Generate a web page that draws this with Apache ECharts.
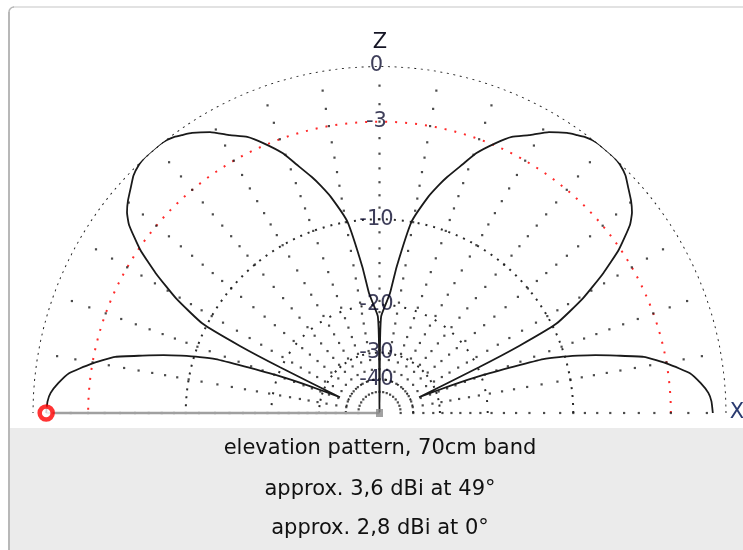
<!DOCTYPE html>
<html>
<head>
<meta charset="utf-8">
<script src="https://cdn.jsdelivr.net/npm/echarts@6/dist/echarts.min.js"></script>
<style>
html,body{margin:0;padding:0;background:#fff;}
#chart{width:743px;height:550px;}
</style>
</head>
<body>
<div id="chart"></div>
<script>
// ---- data ----
// elevation angle (deg, 0 = +X horizon, 90 = zenith, 180 = -X horizon)
const patternAngle = [0, 2, 3.5, 5.3, 7.3, 9.6, 12, 13.6, 15, 16.1, 17.3, 18.2, 19, 20.2, 21.1, 21.7,
  24.7, 25.65, 26.8, 29.4, 32, 34.3, 36.9, 38.5, 40.2, 42.3, 44, 46, 47.5, 49, 50.7, 52.1, 53.4, 54.6, 56.2, 58.9, 61.7, 64.4, 66.7, 69.6, 71.5, 74, 75.5, 77.3, 80.5, 83.3, 85, 87, 89, 89.6, 90,
  90.4, 91, 93, 95, 96.7, 99.5, 102.7, 104.5, 106, 108.5, 110.4, 113.3, 115.6, 118.3, 121.1, 123.8, 125.4, 126.6, 127.9, 129.3, 131, 132.5, 134, 136, 137.7, 139.8, 141.5, 143.1, 145.7, 148, 150.6, 153.2, 154.35, 155.3,
  158.3, 158.9, 159.8, 161, 161.8, 162.7, 163.9, 165, 166.4, 168, 170.4, 172.7, 174.7, 176.5, 178, 180];
// relative gain in dB (0 dB = 3.6 dBi)
const patternDb = [-0.69, -0.75, -0.89, -1.25, -1.77, -2.9, -4.3, -6.05, -7.55, -8.9, -10.5, -12, -15.2, -20, -26, -36,
  -19.8, -13.85, -9.6, -6.8, -4.7, -3.1, -1.76, -1.25, -0.9, -0.55, -0.25, -0.06, 0, 0, 0, -0.05, -0.15, -0.3, -0.5, -0.96, -1.63, -2.15, -2.85, -3.86, -4.8, -5.94, -6.7, -7.7, -10.0, -14.7, -18.2, -20.1, -21.9, -28, -100,
  -28, -21.9, -20.1, -18.2, -14.7, -10.0, -7.7, -6.7, -5.94, -4.8, -3.86, -2.85, -2.15, -1.63, -0.96, -0.5, -0.3, -0.15, -0.05, 0, 0, 0, -0.06, -0.25, -0.55, -0.9, -1.25, -1.76, -3.1, -4.7, -6.8, -9.6, -13.85, -19.8,
  -36, -26, -20, -15.2, -12, -10.5, -8.9, -7.55, -6.05, -4.3, -2.9, -1.77, -1.25, -0.89, -0.75, -0.69];
const ringDb = [0, -3, -10, -20, -30, -40];
const ringLabels = ['0', '-3', '-10', '-20', '-30', '-40'];
const rayAngles = [0, 10, 20, 30, 40, 50, 60, 70, 80, 90, 100, 110, 120, 130, 140, 150, 160, 170, 180];
const rayDotDb = [-1, -2, -3, -4, -5, -6, -7, -8, -9, -10, -11.2, -12.8, -14.4, -16, -17.6, -19.4, -21.2, -23, -25, -27, -29.3, -32, -35.5, -40, -48];
const captionLines = ['elevation pattern, 70cm band', 'approx. 3,6 dBi at 49°', 'approx. 2,8 dBi at 0°'];
const markerAngle = 180;

// ARRL log scale: radius factor 0.89 per 2 dB
function rad(db) { return Math.pow(0.89, -db / 2); }

const arcAngles = [];
for (let a = 0; a <= 180; a += 1) arcAngles.push(a);

const ringStyles = [
  { color: '#1e1e1e', type: [2, 4.6] },
  { color: '#ff2a2a', type: [2, 8] },
  { color: '#2a2a2a', type: [2, 6] },
  { color: '#2a2a2a', type: [2, 9] },
  { color: '#2a2a2a', type: [2, 4.5] },
  { color: '#2a2a2a', type: [2, 4.5] }
];

const series = [];
ringDb.forEach((db, i) => {
  series.push({
    type: 'line', coordinateSystem: 'polar', silent: true, showSymbol: false, animation: false,
    data: arcAngles.map(a => [rad(db), a]),
    lineStyle: { color: ringStyles[i].color, width: 2, type: ringStyles[i].type },
    z: 1
  });
});
const rayData = [];
rayAngles.forEach(a => rayDotDb.forEach(db => rayData.push([rad(db), a])));
series.push({
  type: 'scatter', coordinateSystem: 'polar', silent: true, animation: false,
  symbol: 'rect', symbolSize: 2.2, itemStyle: { color: '#1e1e1e' },
  data: rayData, z: 1
});
// cursor line from centre to marker
const mIdx = patternAngle.indexOf(markerAngle);
series.push({
  type: 'line', coordinateSystem: 'polar', silent: true, showSymbol: false, animation: false,
  data: [[0, markerAngle], [rad(patternDb[mIdx]), markerAngle]],
  lineStyle: { color: '#a0a0a0', width: 2.5 }, z: 2
});
// pattern
series.push({
  type: 'line', coordinateSystem: 'polar', silent: true, showSymbol: false, animation: false,
  smooth: 0.15, clip: false,
  data: patternAngle.map((a, i) => [rad(patternDb[i]), a]),
  lineStyle: { color: '#1a1a1a', width: 1.8 }, z: 3
});
// centre square
series.push({
  type: 'scatter', coordinateSystem: 'polar', silent: true, animation: false,
  symbol: 'rect', symbolSize: [7, 8], itemStyle: { color: '#8a8a8a' },
  data: [[0, 90]], z: 4
});
// marker
series.push({
  type: 'scatter', coordinateSystem: 'polar', silent: true, animation: false,
  symbol: 'circle', symbolSize: 13,
  itemStyle: { color: '#ffffff', borderColor: '#ff0000', borderWidth: 4.5 },
  data: [[rad(patternDb[mIdx]), markerAngle]], z: 5
});
// ring labels on the Z axis
series.push({
  type: 'scatter', coordinateSystem: 'polar', silent: true, animation: false,
  symbolSize: 0,
  data: ringDb.map((db, i) => ({ value: [rad(db), 90], name: ringLabels[i] })),
  label: {
    show: true, position: 'inside', offset: [-3, 0],
    formatter: p => p.name,
    fontFamily: 'DejaVu Sans', fontSize: 21, color: '#0c0c30'
  },
  z: 6
});

const chart = echarts.init(document.getElementById('chart'), null, { renderer: 'canvas' });
chart.setOption({
  backgroundColor: '#ffffff',
  animation: false,
  polar: { center: [379.5, 413], radius: 347 },
  angleAxis: { type: 'value', min: 0, max: 360, startAngle: 0, clockwise: false, show: false },
  radiusAxis: { type: 'value', min: 0, max: 1, show: false },
  graphic: [
    { type: 'rect', shape: { x: 10, y: 428, width: 733, height: 122 }, style: { fill: '#ebebeb' }, z: -10, silent: true },
    { type: 'line', shape: { x1: 9, y1: 12, x2: 9, y2: 550 }, style: { stroke: '#a0a0a0', lineWidth: 1.5 }, silent: true },
    { type: 'line', shape: { x1: 13, y1: 7, x2: 743, y2: 7 }, style: { stroke: '#e2e2e2', lineWidth: 2 }, silent: true },
    { type: 'arc', shape: { cx: 14, cy: 12, r: 5, startAngle: Math.PI, endAngle: Math.PI * 1.5 }, style: { stroke: '#b8b8b8', lineWidth: 1.5, fill: null }, silent: true },
    { type: 'text', x: 380, y: 43, style: { text: 'Z', fontFamily: 'DejaVu Sans', fontSize: 21, fill: '#141424', align: 'center', verticalAlign: 'middle' }, z: 10 },
    { type: 'text', x: 737, y: 413, style: { text: 'X', fontFamily: 'DejaVu Sans', fontSize: 21, fill: '#2a3a70', align: 'center', verticalAlign: 'middle' }, z: 10 },
    { type: 'text', x: 380, y: 449, style: { text: captionLines[0], fontFamily: 'DejaVu Sans', fontSize: 21, fill: '#111', align: 'center', verticalAlign: 'middle' }, z: 10 },
    { type: 'text', x: 380, y: 490, style: { text: captionLines[1], fontFamily: 'DejaVu Sans', fontSize: 21, fill: '#111', align: 'center', verticalAlign: 'middle' }, z: 10 },
    { type: 'text', x: 380, y: 529, style: { text: captionLines[2], fontFamily: 'DejaVu Sans', fontSize: 21, fill: '#111', align: 'center', verticalAlign: 'middle' }, z: 10 }
  ],
  series: series
});
</script>
</body>
</html>
